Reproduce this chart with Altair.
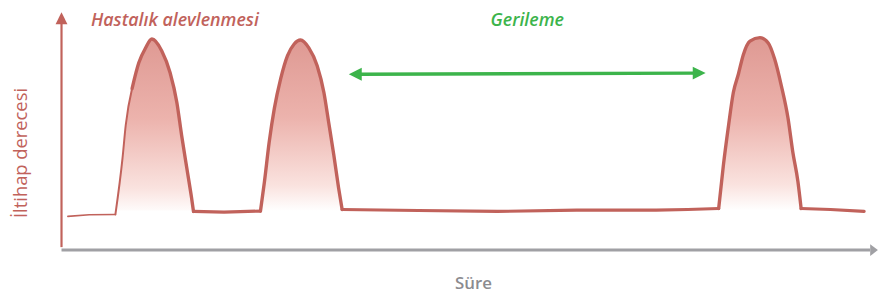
import altair as alt
import pandas as pd

# ---- data (time units, inflammation level) ----
lead_t = [0.8, 3.5, 6.8]
lead_level = [1.7, 1.78, 1.8]

peak1_t = [6.8, 7.7, 8.1, 8.9, 9.75, 10.6, 11.4, 12.65, 13.7, 14.55, 15.15, 15.8, 16.4, 16.65]
peak1_level = [1.8, 4.65, 6.3, 8.15, 9.45, 10.2, 10.65, 10.05, 8.95, 7.45, 5.8, 4.15, 2.65, 1.95]

gap1_t = [16.65, 20.5, 25.1]
gap1_level = [1.95, 1.92, 1.97]

peak2_t = [25.1, 25.6, 26.2, 26.85, 27.65, 28.5, 29.35, 30.15, 31.2, 32.25, 33.1, 33.7, 34.35, 34.95, 35.4]
peak2_level = [1.97, 3.45, 5.45, 7.15, 8.65, 9.8, 10.4, 10.6, 10.2, 9.3, 7.95, 6.45, 4.8, 3.15, 2.05]

gap2_t = [35.4, 45, 55, 65, 75, 79, 82.9]
gap2_level = [2.05, 2.0, 1.95, 2.02, 2.02, 2.05, 2.1]

peak3_t = [82.9, 83.5, 84.15, 84.75, 85.4, 86.0, 86.85, 88.1, 89.15, 89.95, 90.8, 91.65, 92.25, 92.9, 93.3]
peak3_level = [2.1, 4.3, 6.3, 7.95, 8.9, 9.85, 10.55, 10.72, 10.45, 9.65, 8.3, 6.65, 4.95, 3.45, 2.1]

tail_t = [93.3, 97, 101.25]
tail_level = [2.1, 2.05, 1.95]

base_level = 2.0

# axes / arrows
yaxis_t = [0.0, 0.0]
yaxis_level = [0.15, 11.5]
yhead_t = [0.0]
yhead_level = [11.7]

xaxis_t = [0.0, 102.0]
xaxis_level = [0.0, 0.0]
xhead_t = [102.5]
xhead_level = [0.0]

remission_t = [37.5, 80.0]
remission_level = [8.87, 8.93]
rhead_left_t = [37.06]
rhead_right_t = [80.44]
rhead_left_level = [8.87]
rhead_right_level = [8.93]

labels = ["Hastalık alevlenmesi", "Gerileme", "Süre", "İltihap derecesi"]
label_t = [14.3, 58.75, 51.96, -4.4]
label_level = [11.33, 11.33, -1.95, 4.9]

RED = "#c1625b"
GREEN = "#3cb44b"
GRAY = "#a0a0a4"
TEXT_GRAY = "#8b8b8f"
FONT = "Open Sans"

xs = alt.Scale(domain=[-6.75, 103.125], nice=False, zero=False)
ys = alt.Scale(domain=[-2.25, 12.15], nice=False, zero=False)


def X(f):
    return alt.X(f, type="quantitative", scale=xs, axis=None)


def Y(f):
    return alt.Y(f, type="quantitative", scale=ys, axis=None)


def seg(name, ts, ls):
    return pd.DataFrame({"t": ts, "l": ls, "seg": [name] * len(ts)})


# peaks (smooth, monotone) -- the lower left flank of peak 1 is drawn thin
k = 4  # split index in peak 1
peaks_thick = pd.concat([
    seg("p1", peak1_t[k - 1:], peak1_level[k - 1:]),
    seg("p2", peak2_t, peak2_level),
    seg("p3", peak3_t, peak3_level),
], ignore_index=True)
peaks_thin = seg("p1a", peak1_t[:k], peak1_level[:k])
base_thick = pd.concat([
    seg("g1", gap1_t, gap1_level),
    seg("g2", gap2_t, gap2_level),
    seg("g3", tail_t, tail_level),
], ignore_index=True)
base_thin = seg("lead", lead_t, lead_level)

area_df = pd.concat([
    seg("p1", peak1_t, peak1_level),
    seg("p2", peak2_t, peak2_level),
    seg("p3", peak3_t, peak3_level),
], ignore_index=True)
area_df["b"] = base_level

grad = alt.Gradient(
    gradient="linear", x1=0, y1=0, x2=0, y2=1,
    stops=[
        alt.GradientStop(color="#db8e87", offset=0),
        alt.GradientStop(color="#eaaaa3", offset=0.45),
        alt.GradientStop(color="#f9dfdb", offset=0.85),
        alt.GradientStop(color="#ffffff", offset=1),
    ],
)

area = alt.Chart(area_df).mark_area(color=grad, opacity=0.9, interpolate="monotone").encode(
    x=X("t"), y=Y("l"), y2="b:Q", detail="seg:N"
)


def line(df, width, interp):
    return alt.Chart(df).mark_line(
        color=RED, strokeWidth=width, interpolate=interp, strokeJoin="round", strokeCap="round"
    ).encode(x=X("t"), y=Y("l"), detail="seg:N", order="t:Q")


l_base_thin = line(base_thin, 1.6, "linear")
l_base_thick = line(base_thick, 3.2, "linear")
l_peak_thin = line(peaks_thin, 2.0, "monotone")
l_peak_thick = line(peaks_thick, 3.4, "monotone")

yaxis = alt.Chart(pd.DataFrame({"t": yaxis_t, "l": yaxis_level})).mark_line(
    color=RED, strokeWidth=2.2
).encode(x=X("t"), y=Y("l"), order="l:Q")
yhead = alt.Chart(pd.DataFrame({"t": yhead_t, "l": yhead_level})).mark_point(
    shape="M -1 1 L 0 -1 L 1 1 Z", size=144, filled=True, color=RED, opacity=1
).encode(x=X("t"), y=Y("l"))

xaxis = alt.Chart(pd.DataFrame({"t": xaxis_t, "l": xaxis_level})).mark_line(
    color=GRAY, strokeWidth=3
).encode(x=X("t"), y=Y("l"))
xhead = alt.Chart(pd.DataFrame({"t": xhead_t, "l": xhead_level})).mark_point(
    shape="M -0.65 -1 L 0.65 0 L -0.65 1 Z", size=144, filled=True, color=GRAY, opacity=1
).encode(x=X("t"), y=Y("l"))

rem = alt.Chart(pd.DataFrame({"t": remission_t, "l": remission_level})).mark_line(
    color=GREEN, strokeWidth=3.5
).encode(x=X("t"), y=Y("l"))
rem_l = alt.Chart(pd.DataFrame({"t": rhead_left_t, "l": rhead_left_level})).mark_point(
    shape="M 1 -1 L -1 0 L 1 1 Z", size=169, filled=True, color=GREEN, opacity=1
).encode(x=X("t"), y=Y("l"))
rem_r = alt.Chart(pd.DataFrame({"t": rhead_right_t, "l": rhead_right_level})).mark_point(
    shape="M -1 -1 L 1 0 L -1 1 Z", size=169, filled=True, color=GREEN, opacity=1
).encode(x=X("t"), y=Y("l"))

lab = pd.DataFrame({"text": labels, "t": label_t, "l": label_level})

t_flare = alt.Chart(lab.iloc[[0]]).mark_text(
    font=FONT, fontSize=18, fontStyle="italic", fontWeight=600, color=RED,
    align="center", baseline="alphabetic"
).encode(x=X("t"), y=Y("l"), text="text:N")
t_rem = alt.Chart(lab.iloc[[1]]).mark_text(
    font=FONT, fontSize=18, fontStyle="italic", fontWeight=600, color=GREEN,
    align="center", baseline="alphabetic"
).encode(x=X("t"), y=Y("l"), text="text:N")
t_time = alt.Chart(lab.iloc[[2]]).mark_text(
    font=FONT, fontSize=17, fontWeight=600, color=TEXT_GRAY,
    align="center", baseline="alphabetic"
).encode(x=X("t"), y=Y("l"), text="text:N")
t_y = alt.Chart(lab.iloc[[3]]).mark_text(
    font=FONT, fontSize=18.5, color=RED, angle=270,
    align="center", baseline="alphabetic"
).encode(x=X("t"), y=Y("l"), text="text:N")

chart = alt.layer(
    area, l_base_thin, l_base_thick, l_peak_thin, l_peak_thick,
    yaxis, yhead, xaxis, xhead, rem, rem_l, rem_r,
    t_flare, t_rem, t_time, t_y
).properties(
    width=879, height=288, padding=0, autosize=alt.AutoSizeParams(type="none")
).configure_view(stroke=None)

chart.save("out.html", embed_options={"renderer": "svg", "actions": False})
